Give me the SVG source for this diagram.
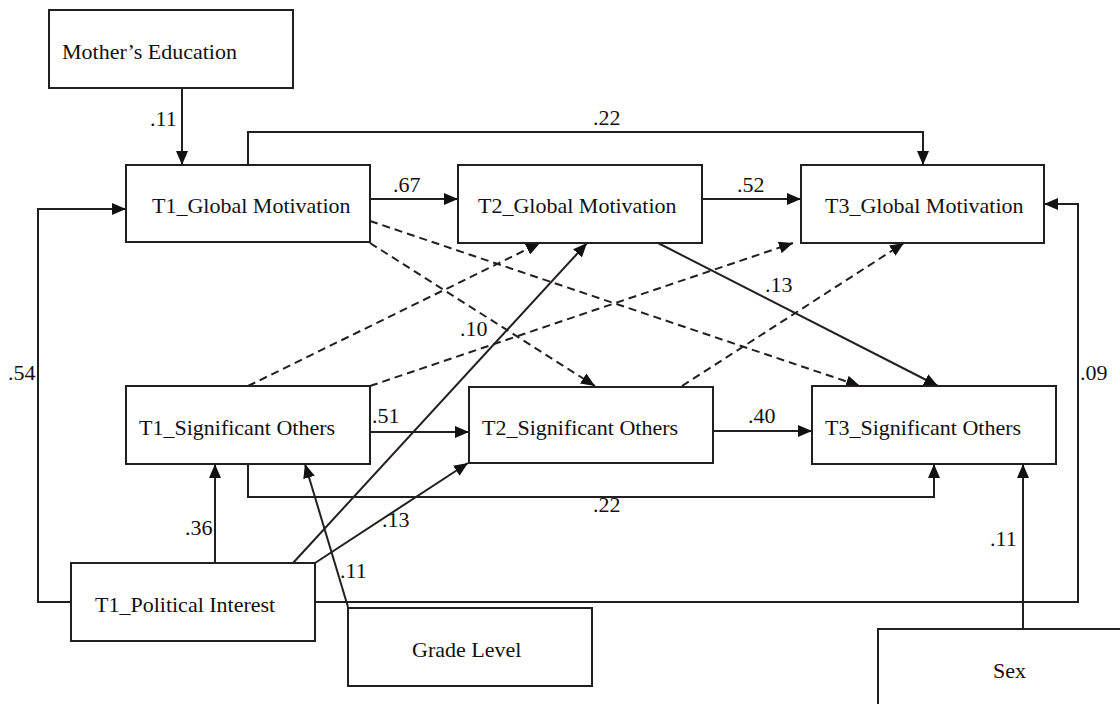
<svg xmlns="http://www.w3.org/2000/svg" width="1120" height="704" viewBox="0 0 1120 704">
  <style>
    .box { fill: #ffffff; stroke: #231f20; stroke-width: 2; }
    text { font-family: 'Liberation Serif', 'Times New Roman', Times, 'DejaVu Serif', serif; font-size: 22px; fill: #111111; }
    .edge { fill: none; stroke: #231f20; stroke-width: 2; marker-end: url(#arrow); }
    .dash { stroke-dasharray: 8 5; }
  </style>
  <defs>
    <marker id="arrow" markerUnits="userSpaceOnUse" markerWidth="14" markerHeight="12" refX="14" refY="6" orient="auto">
      <path d="M0,0 L14,6 L0,12 z" fill="#111111"/>
    </marker>
  </defs>

  <rect width="1120" height="704" fill="#ffffff"/>

  <!-- connectors -->
  <g id="connectors">
    <path class="edge" d="M182,88 V165"/>
    <path class="edge" d="M248,165 V132 H923 V165"/>
    <path class="edge" d="M370,199 H458"/>
    <path class="edge" d="M702,199 H801"/>
    <path class="edge" d="M71,602 H38 V209 H126"/>
    <path class="edge" d="M315,602 H1078 V204 H1044"/>
    <path class="edge" d="M370,432 H469"/>
    <path class="edge" d="M713,431 H812"/>
    <path class="edge" d="M248,464 V497 H934 V464"/>
    <path class="edge" d="M215,563 V464"/>
    <path class="edge" d="M348,607 L305,464"/>
    <path class="edge" d="M293,563 L587,243"/>
    <path class="edge" d="M315,563 L468,463"/>
    <path class="edge" d="M1023,629 V464"/>
    <path class="edge" d="M658,243 L938,386"/>
    <path class="edge dash" d="M370,243 L595,386"/>
    <path class="edge dash" d="M370,221 L860,386"/>
    <path class="edge dash" d="M248,386 L540,243"/>
    <path class="edge dash" d="M370,386 L793,243"/>
    <path class="edge dash" d="M682,386 L904,243"/>

    <!-- path coefficients -->
    <g>
      <text x="150" y="126">.11</text>
      <text x="593" y="125">.22</text>
      <text x="393" y="192">.67</text>
      <text x="737" y="192">.52</text>
      <text x="765" y="292">.13</text>
      <text x="460" y="336">.10</text>
      <text x="372" y="423">.51</text>
      <text x="748" y="423">.40</text>
      <text x="1080" y="380">.09</text>
      <text x="8" y="380">.54</text>
      <text x="185" y="535">.36</text>
      <text x="593" y="512">.22</text>
      <text x="382" y="527">.13</text>
      <text x="340" y="578">.11</text>
      <text x="990" y="546">.11</text>
    </g>
  </g>

  <!-- nodes -->
  <g id="mothers-education">
    <rect class="box" x="49" y="10" width="244" height="78"/>
    <text x="62" y="59">Mother’s Education</text>
  </g>
  <g id="t1-global-motivation">
    <rect class="box" x="126" y="165" width="244" height="77"/>
    <text x="152" y="213">T1_Global Motivation</text>
  </g>
  <g id="t2-global-motivation">
    <rect class="box" x="458" y="165" width="244" height="78"/>
    <text x="478" y="213">T2_Global Motivation</text>
  </g>
  <g id="t3-global-motivation">
    <rect class="box" x="801" y="165" width="243" height="78"/>
    <text x="825" y="213">T3_Global Motivation</text>
  </g>
  <g id="t1-significant-others">
    <rect class="box" x="126" y="386" width="244" height="78"/>
    <text x="139" y="435">T1_Significant Others</text>
  </g>
  <g id="t2-significant-others">
    <rect class="box" x="469" y="387" width="244" height="76"/>
    <text x="482" y="435">T2_Significant Others</text>
  </g>
  <g id="t3-significant-others">
    <rect class="box" x="812" y="386" width="244" height="78"/>
    <text x="825" y="435">T3_Significant Others</text>
  </g>
  <g id="t1-political-interest">
    <rect class="box" x="71" y="563" width="244" height="78"/>
    <text x="95" y="612">T1_Political Interest</text>
  </g>
  <g id="grade-level">
    <rect class="box" x="348" y="608" width="244" height="78"/>
    <text x="412" y="657">Grade Level</text>
  </g>
  <g id="sex">
    <rect class="box" x="878" y="629" width="260" height="100"/>
    <text x="993" y="678">Sex</text>
  </g>
</svg>
